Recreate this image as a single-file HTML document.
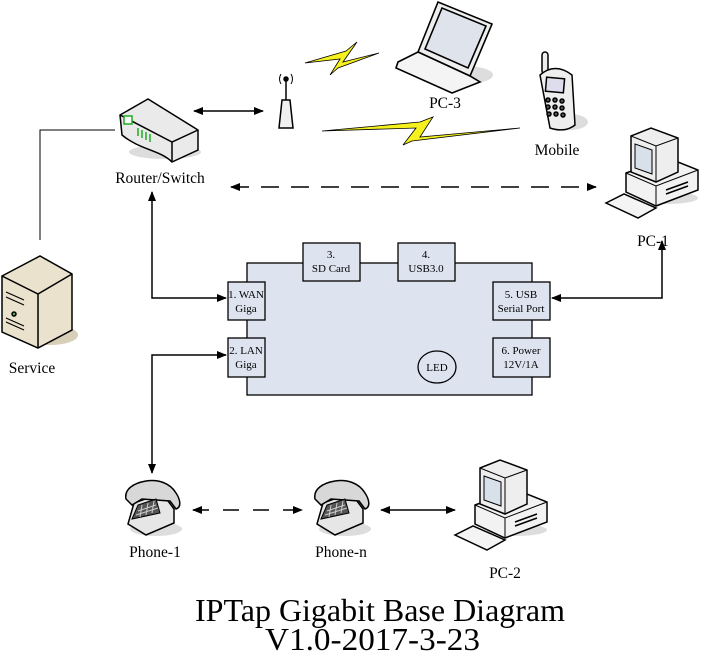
<!DOCTYPE html>
<html><head><meta charset="utf-8"><style>
html,body{margin:0;padding:0;background:#fff;}
svg{display:block;font-family:"Liberation Serif",serif;}
</style></head><body>
<svg width="711" height="669" viewBox="0 0 711 669" xmlns="http://www.w3.org/2000/svg">
<defs>
<marker id="ah" markerWidth="10" markerHeight="8" refX="9" refY="4" orient="auto-start-reverse" markerUnits="userSpaceOnUse">
<path d="M0,0 L10,4 L0,8 Z" fill="#000"/></marker>
<g id="pc">
 <ellipse cx="62" cy="70" rx="30" ry="6" fill="#ddd"/>
 <path d="M20,45 L62,30 L92,42 L92,62 L50,78 L20,64 Z" fill="#f2f2f2" stroke="#000" stroke-width="1.5"/>
 <path d="M20,45 L50,58 L92,42" fill="none" stroke="#000"/><path d="M50,58 L50,78" stroke="#000"/>
 <path d="M25,8 L45,0 L72,10 L72,44 L50,54 L25,44 Z" fill="#eee" stroke="#000" stroke-width="1.5"/>
 <path d="M25,8 L50,18 L72,10 M50,18 L50,54" fill="none" stroke="#000"/>
 <path d="M29,16 L46,22 L46,46 L29,40 Z" fill="#d8e0ea" stroke="#000"/>
 <path d="M0,75 L18,66 L50,80 L32,90 Z" fill="#f4f4f4" stroke="#000" stroke-width="1.5"/>
 <path d="M60,62 L82,54 M60,66 L82,58" stroke="#000" stroke-width="1.5"/>
</g>
<g id="phone">
 <ellipse cx="32" cy="50" rx="26" ry="7" fill="#ddd"/>
 <path d="M4,45 L10,24 L38,14 L50,30 L50,44 L22,56 Z" fill="#e6e6e6" stroke="#000" stroke-width="1.5"/>
 <path d="M2,20 C0,10 10,4 22,2 C34,0 46,4 52,14 C56,20 58,28 52,30 L46,22 L18,20 L8,26 Z" fill="#d8d8d8" stroke="#000" stroke-width="1.5"/>
 <path d="M8,40 L14,26 L32,20 L36,34 Z" fill="#555" stroke="#000"/>
 <path d="M14,32 L32,26 M12,36 L34,29 M18,26 L16,38 M24,24 L22,36 M30,22 L28,34" stroke="#ccc" stroke-width="1"/>
</g>
</defs>

<g stroke="#000" stroke-width="1.5" fill="none">
 <path d="M40,240 L40,130 L115,130" stroke-width="1"/>
 <path d="M194,111 L263,111" marker-start="url(#ah)" marker-end="url(#ah)"/>
 <path d="M231,187 L596,187" stroke-dasharray="18,12" marker-start="url(#ah)" marker-end="url(#ah)"/>
 <path d="M152,192 L152,298 L226,298" marker-start="url(#ah)" marker-end="url(#ah)"/>
 <path d="M226,355 L152,355 L152,473" marker-start="url(#ah)" marker-end="url(#ah)"/>
 <path d="M552,298 L662,298 L662,241" marker-start="url(#ah)" marker-end="url(#ah)"/>
 <path d="M193,510 L302,510" stroke-dasharray="16,14" marker-start="url(#ah)" marker-end="url(#ah)"/>
 <path d="M381,510 L455,510" marker-start="url(#ah)" marker-end="url(#ah)"/>
</g>

<g stroke="#000" stroke-width="1.3" fill="#dde4f0">
 <rect x="247" y="263" width="285" height="132"/>
 <rect x="303" y="243" width="57" height="38"/>
 <rect x="398" y="243" width="57" height="38"/>
 <rect x="228" y="282" width="37" height="38"/>
 <rect x="228" y="338" width="37" height="39"/>
 <rect x="493" y="282" width="57" height="38"/>
 <rect x="493" y="338" width="57" height="39"/>
 <ellipse cx="437" cy="367" rx="19" ry="16"/>
</g>
<g font-size="11" text-anchor="middle" fill="#000">
 <text x="331" y="258">3.</text><text x="331" y="272">SD Card</text>
 <text x="426" y="258">4.</text><text x="426" y="272">USB3.0</text>
 <text x="246" y="298">1. WAN</text><text x="246" y="312">Giga</text>
 <text x="246" y="354">2. LAN</text><text x="246" y="368">Giga</text>
 <text x="521" y="298">5. USB</text><text x="521" y="312">Serial Port</text>
 <text x="521" y="354">6. Power</text><text x="521" y="368">12V/1A</text>
 <text x="437" y="371">LED</text>
</g>

<polygon points="305,63 346,51 357,42 343,62 379,53 338,68 330,75 340,59" fill="#f5f01e" stroke="#000" stroke-width="0.8"/>
<polygon points="322,131 420,122 433,117 420,137 520,128 412,141 403,145 416,128" fill="#f5f01e" stroke="#000" stroke-width="0.8"/>

<g stroke="#000" stroke-width="1.5">
 <ellipse cx="165" cy="152" rx="36" ry="7" fill="#ddd" stroke="none"/>
 <path d="M120,115 L148,99 L198,130 L198,150 L172,162 C160,150 140,150 122,135 Z" fill="#eaeaea"/>
 <path d="M120,115 L172,142 L198,130 M172,142 L172,162" fill="none"/>
 <rect x="124" y="116" width="8" height="8" fill="#fff" stroke="#2a2"/>
 <path d="M138,128 L138,136 M142,130 L142,138 M146,132 L146,140 M150,134 L150,142" stroke="#2a2"/>
</g>
<g stroke="#000" stroke-width="1.5" fill="#f0f0f0">
 <path d="M279,128 L282,100 L290,100 L293,128 Z"/>
 <path d="M286,100 L286,80" fill="none"/><circle cx="286" cy="79" r="2" fill="#000"/>
 <path d="M281,74 Q278,79 281,84 M291,74 Q294,79 291,84" fill="none" stroke-width="1"/>
</g>
<g stroke="#000" stroke-width="1.6">
 <ellipse cx="465" cy="75" rx="28" ry="9" fill="#ddd" stroke="none"/>
 <path d="M418,52 L438,2 L492,24 L470,76 Z" fill="#eee"/>
 <path d="M425,49 L442,8 L486,26 L468,68 Z" fill="#dfe4ec"/>
 <path d="M398,62 L418,52 L470,76 L480,82 L452,93 L396,68 Z" fill="#f4f4f4"/>
</g>
<g stroke="#000" stroke-width="1.5">
 <ellipse cx="570" cy="122" rx="18" ry="8" fill="#ddd" stroke="none"/>
 <rect x="542" y="52" width="6" height="22" rx="3" fill="#eee"/>
 <path d="M540,75 Q555,62 572,75 L575,125 Q565,133 550,128 Z" fill="#eee"/>
 <rect x="546" y="78" width="18" height="14" fill="#dde" transform="rotate(5 555 85)"/>
 <g fill="#555"><circle cx="548" cy="100" r="2"/><circle cx="555" cy="100" r="2"/><circle cx="562" cy="101" r="2"/><circle cx="548" cy="107" r="2"/><circle cx="555" cy="107" r="2"/><circle cx="562" cy="108" r="2"/><circle cx="549" cy="114" r="2"/><circle cx="556" cy="114" r="2"/><circle cx="563" cy="115" r="2"/></g>
</g>
<g stroke="#000" stroke-width="1.5">
 <ellipse cx="50" cy="335" rx="28" ry="10" fill="#d8cfb8" stroke="none"/>
 <path d="M2,276 L40,256 L72,274 L72,330 L38,348 L2,332 Z" fill="#eae2cc"/>
 <path d="M2,276 L38,294 L72,274 M38,294 L38,348" fill="none"/>
 <path d="M6,292 L24,300 M6,297 L24,305 M6,318 L24,326 M6,322 L24,330" stroke-width="1.2"/>
 <circle cx="14" cy="314" r="2" fill="#5a5"/>
</g>

<use href="#pc" x="606" y="128"/>
<use href="#pc" x="455" y="460"/>
<use href="#phone" x="124" y="479"/>
<use href="#phone" x="313" y="479"/>

<g font-size="15.5" text-anchor="middle" fill="#000">
 <text x="160" y="183">Router/Switch</text>
 <text x="445" y="108">PC-3</text>
 <text x="557" y="155">Mobile</text>
 <text x="653" y="246">PC-1</text>
 <text x="32" y="373">Service</text>
 <text x="155" y="557">Phone-1</text>
 <text x="341" y="557">Phone-n</text>
 <text x="505" y="578">PC-2</text>
</g>
<g font-size="32" fill="#000">
 <text x="195" y="621" textLength="370" lengthAdjust="spacingAndGlyphs">IPTap Gigabit Base Diagram</text>
 <text x="265" y="650" textLength="215" lengthAdjust="spacingAndGlyphs">V1.0-2017-3-23</text>
</g>
</svg>
</body></html>
